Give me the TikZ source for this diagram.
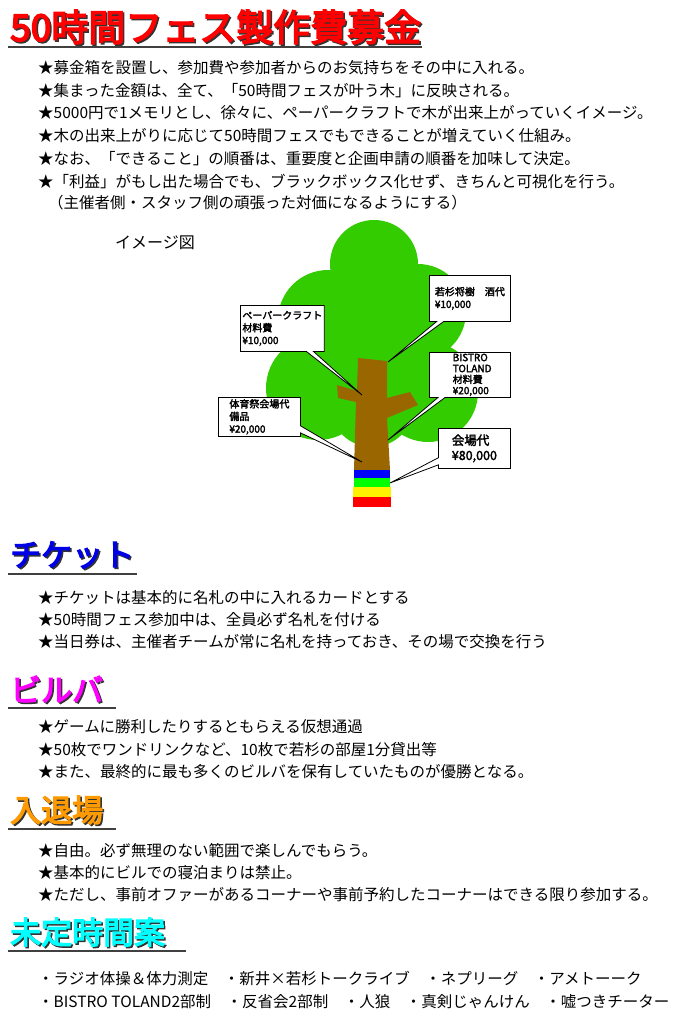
\documentclass[tikz,border=0pt]{standalone}
\usepackage{fontspec}
\setmainfont{Noto Sans CJK JP}
\newfontfamily\heavy{Noto Sans CJK JP}[FakeBold=4]
\newfontfamily\boxf{Noto Sans CJK JP}[FakeBold=2.5]
\usetikzlibrary{shapes.callouts}
\definecolor{leaf}{RGB}{51,204,0}
\definecolor{bark}{RGB}{153,102,0}
\definecolor{hblue}{RGB}{0,0,230}
\definecolor{hmag}{RGB}{255,0,255}
\definecolor{horange}{RGB}{255,153,0}
\definecolor{hcyan}{RGB}{0,255,255}
\definecolor{hred}{RGB}{255,0,0}
\begin{document}
\begin{tikzpicture}[x=1pt,y=-1pt,
  body/.style={anchor=west,inner sep=0pt,font=\fontsize{15.5}{18}\selectfont},
  small/.style={anchor=west,inner sep=0pt,font=\fontsize{15.5}{18}\selectfont},
  head/.style={anchor=west,inner sep=0pt,font=\heavy\fontsize{31}{33}\selectfont},
  uline/.style={line width=1.6pt,draw=black!75},
  call/.style={rectangle callout,draw=black,fill=white,line width=0.8pt,align=left,anchor=north west,inner sep=2pt,font=\boxf\fontsize{10}{12.5}\selectfont,minimum height=12pt}]
\useasboundingbox (0,0) rectangle (680,1024);
\fill[white] (0,0) rectangle (680,1024);
% title
\node[head,font=\heavy\fontsize{37}{38}\selectfont,text=black!80] at (11.5,28.5) {50時間フェス製作費募金};
\node[head,font=\heavy\fontsize{37}{38}\selectfont,text=hred] (title) at (10,27) {50時間フェス製作費募金};
\draw[uline] (8,47) -- (422,47);
\node[body] (l1) at (38,68) {★募金箱を設置し、参加費や参加者からのお気持ちをその中に入れる。};
\node[body] (l2) at (38,91) {★集まった金額は、全て、「50時間フェスが叶う木」に反映される。};
\node[body] (l3) at (38,113) {★5000円で1メモリとし、徐々に、ペーパークラフトで木が出来上がっていくイメージ。};
\node[body] (l4) at (38,136) {★木の出来上がりに応じて50時間フェスでもできることが増えていく仕組み。};
\node[body] (l5) at (38,159) {★なお、「できること」の順番は、重要度と企画申請の順番を加味して決定。};
\node[body] (l6) at (38,182) {★「利益」がもし出た場合でも、ブラックボックス化せず、きちんと可視化を行う。};
\node[body] (l7) at (48,203) {（主催者側・スタッフ側の頑張った対価になるようにする）};
\node[body,font=\fontsize{16}{18}\selectfont] (img) at (115,243) {イメージ図};
% tree canopy
\fill[leaf] (374,264) circle (44) (328,320) circle (50) (418,312) circle (48)
  (318,388) circle (52) (428,392) circle (50) (372,360) circle (62) (372,405) circle (42);
% trunk
\fill[bark] (358,358) -- (387,361) -- (387,398) -- (410,392) -- (418,405) -- (387,418) -- (390,470) -- (354,470) -- (356,402) -- (338,398) -- (337,385) -- (357,391) -- cycle;
\fill[blue] (354,470) rectangle (390,478);
\fill[green] (354,478) rectangle (390,487);
\fill[yellow] (353,487) rectangle (391,497);
\fill[red] (353,497) rectangle (391,507);
\coordinate (p1) at (362,395);
\coordinate (p2) at (388,362);
\coordinate (p3) at (388,440);
\coordinate (p4) at (362,462);
\coordinate (p5) at (390,483);
\node[call,callout absolute pointer={(p1)},minimum width=80pt,minimum height=46pt] (c1) at (240,305) {ペーパークラフト\\材料費\\¥10,000};
\node[call,callout absolute pointer={(p2)},minimum width=81pt,minimum height=46pt] (c2) at (429,275) {若杉将樹\quad 酒代\\¥10,000};
\node[call,callout absolute pointer={(p3)},minimum width=81pt,minimum height=45pt,inner sep=0pt,font=\boxf\fontsize{10}{11}\selectfont] (c3) at (429,352) {\ \ BISTRO\\\ \ TOLAND\\\ \ 材料費\\\ \ ¥20,000};
\node[call,callout absolute pointer={(p4)},minimum width=82pt,minimum height=39pt,inner sep=1pt] (c4) at (218,397) {体育祭会場代\\備品\\¥20,000};
\node[call,callout absolute pointer={(p5)},minimum width=72pt,minimum height=40pt,inner sep=1pt,font=\boxf\fontsize{12.5}{15}\selectfont] (c5) at (438,428) {会場代\\¥80,000};
% チケット
\node[head,text=black!80] at (11.5,556.5) {チケット};
\node[head,text=hblue] (h1) at (10,555) {チケット};
\draw[uline] (8,574) -- (137,574);
\node[body] at (38,598) {★チケットは基本的に名札の中に入れるカードとする};
\node[body] at (38,620) {★50時間フェス参加中は、全員必ず名札を付ける};
\node[body] at (38,642) {★当日券は、主催者チームが常に名札を持っておき、その場で交換を行う};
% ビルバ
\node[head,text=black!80] at (11.5,690.5) {ビルバ};
\node[head,text=hmag] (h2) at (10,689) {ビルバ};
\draw[uline] (8,708) -- (116,708);
\node[body] at (38,727) {★ゲームに勝利したりするともらえる仮想通過};
\node[body] at (38,750) {★50枚でワンドリンクなど、10枚で若杉の部屋1分貸出等};
\node[body] at (38,772) {★また、最終的に最も多くのビルバを保有していたものが優勝となる。};
% 入退場
\node[head,text=black!80] at (11.5,811.5) {入退場};
\node[head,text=horange] (h3) at (10,810) {入退場};
\draw[uline] (8,829) -- (116,829);
\node[body] at (38,851) {★自由。必ず無理のない範囲で楽しんでもらう。};
\node[body] at (38,873) {★基本的にビルでの寝泊まりは禁止。};
\node[body] at (38,895) {★ただし、事前オファーがあるコーナーや事前予約したコーナーはできる限り参加する。};
% 未定時間案
\node[head,text=black!80] at (11.5,933.5) {未定時間案};
\node[head,text=hcyan] (h4) at (10,932) {未定時間案};
\draw[uline] (8,951) -- (186,951);
\node[small] at (38,979) {・ラジオ体操＆体力測定\quad ・新井×若杉トークライブ\quad ・ネプリーグ\quad ・アメトーーク};
\node[small] at (38,1002) {・BISTRO TOLAND2部制\quad ・反省会2部制\quad ・人狼\quad ・真剣じゃんけん\quad ・嘘つきチーター};
\end{tikzpicture}
\end{document}
